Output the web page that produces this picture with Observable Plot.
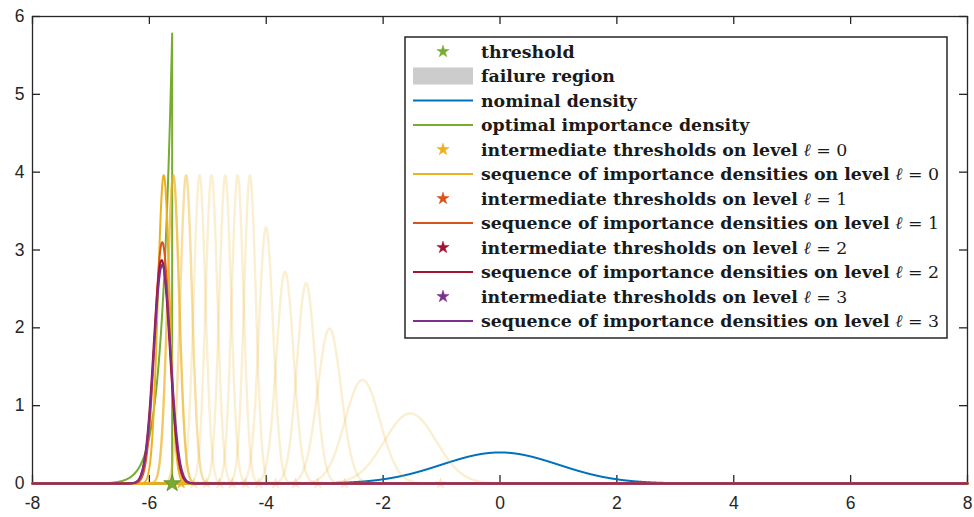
<!DOCTYPE html>
<html><head><meta charset="utf-8">
<script src="https://cdn.jsdelivr.net/npm/d3@7"></script>
<script src="https://cdn.jsdelivr.net/npm/@observablehq/plot@0.6"></script>
<style>
body{margin:0;background:#fff;}
#chart{width:974px;height:517px;position:relative;}
</style>
</head><body><div id="chart"></div>
<script>
// ---------- data ----------
const xTicks = [-8, -6, -4, -2, 0, 2, 4, 6, 8];
const yTicks = [0, 1, 2, 3, 4, 5, 6];

const threshold = -5.61;          // failure threshold (green star)
const optimalPeak = 5.78;         // peak of optimal importance density at the threshold
const nominalMean = 0;
const nominalPeak = 0.399;

// level 0: sequence of importance densities (centres and peak heights)
const level0Means = [-5.754, -5.591, -5.371, -5.141, -4.936, -4.702, -4.490, -4.279, -4.004, -3.678, -3.318, -2.919, -2.353, -1.535];
const level0Peaks = [3.96, 3.96, 3.96, 3.96, 3.96, 3.96, 3.96, 3.96, 3.29, 2.72, 2.57, 1.99, 1.33, 0.90];
// level 0: intermediate thresholds
const level0Thresholds = [-5.455, -5.240, -5.022, -4.795, -4.582, -4.355, -4.127, -3.841, -3.499, -3.118, -2.661, -1.018];

// levels 1..3: final importance densities
const levelNames = ["1", "2", "3"];
const levelMeans = [-5.78, -5.79, -5.78];
const levelPeaks = [3.10, 2.87, 2.81];

const legendLabels = [
  "threshold", "failure region", "nominal density", "optimal importance density",
  "intermediate thresholds on level", "sequence of importance densities on level",
  "intermediate thresholds on level", "sequence of importance densities on level",
  "intermediate thresholds on level", "sequence of importance densities on level",
  "intermediate thresholds on level", "sequence of importance densities on level"
];
const legendLevels = [null, null, null, null, "0", "0", "1", "1", "2", "2", "3", "3"];

// ---------- styles ----------
const C = {blue: "#0072BD", orange: "#D95319", yellow: "#EDB120", purple: "#7E2F8E", green: "#77AC30", red: "#A2142F", axis: "#262626"};
const levelColors = [C.orange, C.red, C.purple];
const legendKinds = ["star", "patch", "line", "line", "star", "line", "star", "line", "star", "line", "star", "line"];
const legendColors = [C.green, "#cccccc", C.blue, C.green, C.yellow, C.yellow, C.orange, C.orange, C.red, C.red, C.purple, C.purple];
const curveOpacity = i => i === 0 ? 1 : i === 1 ? 0.7 : i === 2 ? 0.42 : 0.2;
const starOpacity = i => i === 0 ? 0.95 : 0.25;

// ---------- curves ----------
const xs = d3.range(-8, 8.0001, 0.004);
function gauss(mu, peak) {
  const s = 1 / (peak * Math.sqrt(2 * Math.PI));
  return xs.map(x => ({x, y: peak * Math.exp(-((x - mu) ** 2) / (2 * s * s))}));
}
const optimal = [];
for (const x of xs) { if (x < threshold) optimal.push({x, y: optimalPeak * Math.exp((threshold * threshold - x * x) / 2)}); }
optimal.push({x: threshold, y: optimalPeak}, {x: threshold, y: 0});
for (const x of xs) { if (x > threshold) optimal.push({x, y: 0}); }

const W = 974, H = 517, mL = 32, mR = 7, mT = 16, mB = 34;
const plotW = W - mL - mR, plotH = H - mT - mB;

const marks = [];
marks.push(Plot.frame({stroke: C.axis, strokeWidth: 1.3}));
marks.push(Plot.tickX(xTicks, {x: d => d, insetTop: plotH - 8, stroke: C.axis, strokeWidth: 1.3}));
marks.push(Plot.tickX(xTicks, {x: d => d, insetBottom: plotH - 8, stroke: C.axis, strokeWidth: 1.3}));
marks.push(Plot.tickY(yTicks, {y: d => d, insetRight: plotW - 8, stroke: C.axis, strokeWidth: 1.3}));
marks.push(Plot.tickY(yTicks, {y: d => d, insetLeft: plotW - 8, stroke: C.axis, strokeWidth: 1.3}));
marks.push(Plot.axisX(xTicks, {tickSize: 0, tickPadding: 13, label: null, tickFormat: d => String(d), fill: C.axis, fontSize: 17.5}));
marks.push(Plot.axisY(yTicks, {tickSize: 0, tickPadding: 8, label: null, tickFormat: d => String(d), fill: C.axis, fontSize: 17.5}));

// nominal density
marks.push(Plot.line(gauss(nominalMean, nominalPeak), {x: "x", y: "y", stroke: C.blue, strokeWidth: 2}));
// optimal importance density
marks.push(Plot.line(optimal, {x: "x", y: "y", stroke: C.green, strokeWidth: 2}));
// level 0 sequence (drawn faint-first)
for (let i = level0Means.length - 1; i >= 0; i--) {
  marks.push(Plot.line(gauss(level0Means[i], level0Peaks[i]), {x: "x", y: "y", stroke: C.yellow, strokeOpacity: curveOpacity(i), strokeWidth: i === 0 ? 2 : 2.4}));
}
for (let i = level0Thresholds.length - 1; i >= 0; i--) {
  marks.push(Plot.dot([level0Thresholds[i]], {x: d => d, y: () => 0, symbol: "star", r: 3.3, fill: C.yellow, fillOpacity: starOpacity(i), stroke: C.yellow, strokeOpacity: starOpacity(i), strokeWidth: 0.6}));
}
// levels 1..3
levelMeans.forEach((m, i) => {
  marks.push(Plot.line(gauss(m, levelPeaks[i]), {x: "x", y: "y", stroke: levelColors[i], strokeWidth: 2}));
});
// threshold star
marks.push(Plot.dot([threshold], {x: d => d, y: () => 0, symbol: "star", r: 5.3, fill: C.green, stroke: "#5e8f22", strokeWidth: 0.8}));

const svg = Plot.plot({
  width: W, height: H,
  marginLeft: mL, marginRight: mR, marginTop: mT, marginBottom: mB,
  x: {domain: [-8, 8]}, y: {domain: [0, 6]},
  style: {fontFamily: "'Liberation Sans', Arial, sans-serif", fontSize: "17px", color: C.axis, background: "#fff", overflow: "visible"},
  marks
});
document.getElementById("chart").appendChild(svg);

// ---------- legend ----------
const box = {x: 405, y: 37, w: 542, h: 301};
const g = d3.select(svg).append("g").attr("text-anchor", "start");
g.append("rect").attr("x", box.x).attr("y", box.y).attr("width", box.w).attr("height", box.h)
  .attr("fill", "#fff").attr("stroke", C.axis).attr("stroke-width", 1.5);
const row0 = 51.5, rowStep = 24.5, textX = 481, sx0 = 413, sx1 = 473;
const star = d3.symbol(d3.symbolStar, 46);
let fs = 15;
const texts = [];
legendLabels.forEach((lab, i) => {
  const cy = row0 + i * rowStep;
  const kind = legendKinds[i], col = legendColors[i];
  if (kind === "line") g.append("line").attr("x1", sx0).attr("x2", sx1).attr("y1", cy).attr("y2", cy).attr("stroke", col).attr("stroke-width", 2);
  else if (kind === "patch") g.append("rect").attr("x", sx0).attr("y", cy - 8.5).attr("width", sx1 - sx0).attr("height", 17).attr("fill", col);
  else g.append("path").attr("d", star).attr("transform", `translate(${(sx0 + sx1) / 2},${cy})`).attr("fill", col).attr("stroke", col).attr("stroke-width", 0.5);
  const t = g.append("text").attr("x", textX).attr("y", cy).attr("dy", "0.35em").attr("text-anchor", "start")
    .attr("font-family", "'DejaVu Serif', serif").attr("font-weight", "bold").attr("fill", "#1a1a1a");
  t.append("tspan").text(lab);
  if (legendLevels[i] !== null) {
    t.append("tspan").attr("font-style", "italic").attr("font-weight", "normal").text(" \u2113");
    t.append("tspan").attr("font-weight", "normal").text(" = " + legendLevels[i]);
  }
  texts.push(t);
});
texts.forEach(t => t.attr("font-size", fs));
const longest = d3.max(texts, t => t.node().getComputedTextLength());
fs = fs * 458 / longest;
texts.forEach(t => t.attr("font-size", fs.toFixed(2)));
</script>
</body></html>
